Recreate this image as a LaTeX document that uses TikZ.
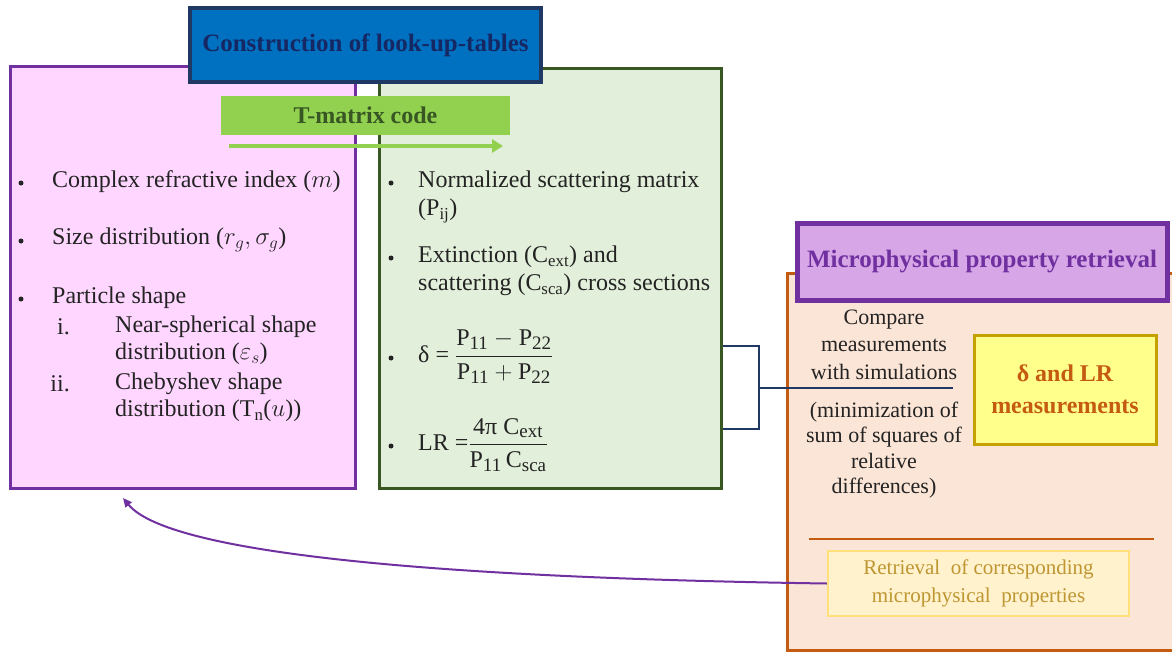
\documentclass[tikz,border=0pt]{standalone}
\usepackage{amsmath}
\usepackage{fontspec}
\setmainfont{Liberation Serif}
\usetikzlibrary{arrows.meta}
\newcommand{\bigsub}[1]{\text{\fontsize{19}{19}\selectfont #1}}
\definecolor{pinkfill}{RGB}{255,214,255}
\definecolor{pinkdraw}{RGB}{112,48,160}
\definecolor{greenfill}{RGB}{226,239,218}
\definecolor{greendraw}{RGB}{56,87,35}
\definecolor{bluefill}{RGB}{0,112,192}
\definecolor{bluedraw}{RGB}{31,56,100}
\definecolor{bluetext}{RGB}{22,40,100}
\definecolor{tmfill}{RGB}{146,208,80}
\definecolor{tmtext}{RGB}{55,86,35}
\definecolor{orfill}{RGB}{251,229,214}
\definecolor{ordraw}{RGB}{197,90,17}
\definecolor{purfill}{RGB}{214,166,231}
\definecolor{purdraw}{RGB}{112,48,160}
\definecolor{yelfill}{RGB}{255,255,140}
\definecolor{yeldraw}{RGB}{196,160,0}
\definecolor{retfill}{RGB}{255,242,204}
\definecolor{retdraw}{RGB}{255,224,122}
\definecolor{rettext}{RGB}{190,150,50}
\definecolor{textdark}{RGB}{35,35,35}
\definecolor{navyline}{RGB}{32,56,100}
\tikzset{
  panel/.style={draw, rectangle, inner sep=0pt},
  txt/.style={anchor=west, inner sep=0pt, font=\fontsize{24}{28}\selectfont, text=textdark},
  bul/.style={circle, fill=textdark, inner sep=0pt, minimum size=5pt},
  rtxt/.style={align=center, inner sep=0pt, text=textdark},
}
\begin{document}
\begin{tikzpicture}[x=1pt,y=-1pt]
\useasboundingbox (0,0) rectangle (1172,653);
\fill[white] (0,0) rectangle (1172,653);
% left panels
\node[panel, fill=pinkfill, draw=pinkdraw, line width=3pt, minimum width=345pt, minimum height=422pt] (pink) at (182.5,277) {};
\node[panel, fill=greenfill, draw=greendraw, line width=3pt, minimum width=342pt, minimum height=420pt] (green) at (550,278) {};
\node[panel, fill=bluefill, draw=bluedraw, line width=4pt, minimum width=351pt, minimum height=74pt, font=\bfseries\fontsize{25}{28}\selectfont, text=bluetext] (title) at (365.5,45) {Construction of look-up-tables};
\node[panel, draw=none, fill=tmfill, minimum width=289pt, minimum height=39pt, font=\bfseries\fontsize{24}{28}\selectfont, text=tmtext] (tm) at (365.5,115.5) {T-matrix code};
\coordinate (tma) at (229,146);
\coordinate (tmb) at (503,146);
\draw[tmfill, line width=4pt, -{Triangle[length=11pt,width=13pt]}] (tma) -- (tmb);
% left list
\node[bul] (lb1) at (21,183) {};
\node[txt] (l1) at (52,182) {Complex refractive index ($m$)};
\node[bul] (lb2) at (21,241) {};
\node[txt] (l2) at (52,240) {Size distribution ($r_g, \sigma_g$)};
\node[bul] (lb3) at (21,299) {};
\node[txt] (l3) at (52,298) {Particle shape};
\node[anchor=east, inner sep=0pt, font=\fontsize{24}{28}\selectfont, text=textdark] (r1) at (70,327) {i.};
\node[txt] (l4) at (115,327) {Near-spherical shape};
\node[txt] (l5) at (115,354) {distribution ($\varepsilon_s$)};
\node[anchor=east, inner sep=0pt, font=\fontsize{24}{28}\selectfont, text=textdark] (r2) at (70,384) {ii.};
\node[txt] (l6) at (115,384) {Chebyshev shape};
\node[txt] (l7) at (115,411) {distribution (T\textsubscript{n}($u$))};
% green list
\node[bul] (gb1) at (391,183) {};
\node[txt] (g1) at (418,182) {Normalized scattering matrix};
\node[txt] (g2) at (418,211) {(P\textsubscript{ij})};
\node[bul] (gb2) at (391,258) {};
\node[txt] (g3) at (418,257) {Extinction (C\textsubscript{ext}) and};
\node[txt] (g4) at (418,285) {scattering (C\textsubscript{sca}) cross sections};
\node[bul] (gb3) at (391,358) {};
\node[txt] (g5) at (418,357) {δ = $\dfrac{\text{P}_{\bigsub{11}}-\text{P}_{\bigsub{22}}}{\text{P}_{\bigsub{11}}+\text{P}_{\bigsub{22}}}$};
\node[bul] (gb4) at (391,446) {};
\node[txt] (g6) at (418,445) {LR =$\dfrac{\text{4π C}_{\bigsub{ext}}}{\text{P}_{\bigsub{11}}\,\text{C}_{\bigsub{sca}}}$};
% right panel
\node[panel, fill=orfill, draw=ordraw, line width=3pt, minimum width=403pt, minimum height=377pt] (orange) at (988.5,461.5) {};
\node[panel, fill=purfill, draw=purdraw, line width=5pt, minimum width=370pt, minimum height=77pt, font=\bfseries\fontsize{25}{29}\selectfont, text=purdraw] (ptitle) at (982,261.5) {Microphysical property retrieval};
\node[panel, fill=yelfill, draw=yeldraw, line width=3pt, minimum width=182pt, minimum height=109pt, align=center, font=\bfseries\fontsize{24}{32}\selectfont, text=ordraw] (meas) at (1065,389.5) {δ and LR\\measurements};
\node[rtxt, font=\fontsize{22}{27.5}\selectfont] (cmp) at (884,344.5) {Compare\\measurements\\with simulations};
\node[rtxt, font=\fontsize{22}{25.3}\selectfont] (mini) at (884,450) {(minimization of\\sum of squares of\\relative\\differences)};
\draw[ordraw, line width=2pt] (809,539) -- (1154,539);
\node[panel, fill=retfill, draw=retdraw, line width=2.5pt, minimum width=301pt, minimum height=65pt, align=center, font=\fontsize{21}{28}\selectfont, text=rettext] (ret) at (978.5,583.5) {Retrieval\ \ of corresponding\\microphysical\ \ properties};
% connectors
\coordinate (bk1) at (759,346);
\coordinate (bk2) at (759,429);
\coordinate (bkm) at (759,388);
\coordinate (cmpend) at (953,388);
\draw[navyline, line width=1.6pt] (green.east |- bk1) -- (bk1) -- (bk2) -- (green.east |- bk2);
\draw[navyline, line width=1.6pt] (bkm) -- (cmpend);
\coordinate (tip) at (123,498);
\draw[purdraw, line width=2pt, -{Triangle[length=9pt,width=8pt]}] (ret.west) .. controls (450,578) and (170,555) .. (tip);
\end{tikzpicture}
\end{document}
